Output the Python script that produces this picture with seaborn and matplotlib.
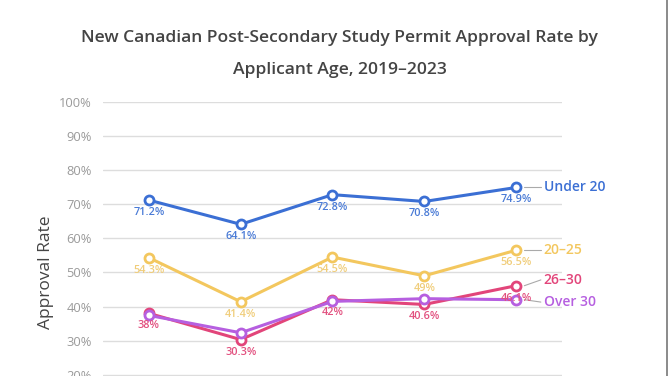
import matplotlib
matplotlib.use("Agg")
import matplotlib.pyplot as plt
import seaborn as sns
import pandas as pd
from matplotlib.lines import Line2D

years = [2019, 2020, 2021, 2022, 2023]
under20 = [71.2, 64.1, 72.8, 70.8, 74.9]
age20_25 = [54.3, 41.4, 54.5, 49.0, 56.5]
age26_30 = [38.0, 30.3, 42.0, 40.6, 46.1]
over30 = [37.4, 32.3, 41.5, 42.3, 42.0]
series_names = ["Under 20", "20\u201325", "26\u201330", "Over 30"]
series_values = [under20, age20_25, age26_30, over30]
show_labels = [True, True, True, False]
colors = ["#3b6fd4", "#f3c75e", "#e2457a", "#b65fe0"]
label_colors = ["#4a7bd6", "#f0cd7a", "#e2507f", "#b65fe0"]
yticks = [0, 10, 20, 30, 40, 50, 60, 70, 80, 90, 100]

sns.set_theme(style="white")
plt.rcParams['font.family'] = ['Open Sans', 'DejaVu Sans']

fig = plt.figure(figsize=(6.69, 3.76), dpi=100)
ax = fig.add_axes([0.154, -0.178, 0.686, 0.907])

rows = []
for name, vals in zip(series_names, series_values):
    for i, v in enumerate(vals):
        rows.append({"idx": i, "year": years[i], "rate": v, "series": name})
df = pd.DataFrame(rows)

for name, col in zip(series_names, colors):
    sub = df[df.series == name]
    sns.lineplot(data=sub, x="idx", y="rate", ax=ax, color=col, lw=2.2,
                 marker="o", markersize=6.5, markerfacecolor="white",
                 markeredgecolor=col, markeredgewidth=2, zorder=3)

# data labels
for name, vals, lc, show in zip(series_names, series_values, label_colors, show_labels):
    if not show:
        continue
    for i, v in enumerate(vals):
        lab = f"{v:g}%"
        ax.annotate(lab, (i, v), xytext=(0, -9), textcoords="offset points",
                    ha="center", va="center", fontsize=7.8, color=lc,
                    fontweight="semibold", zorder=4)

# series end labels
label_y = [74.9, 56.5, 47.8, 41.3]
for name, vals, col, ly in zip(series_names, series_values, colors, label_y):
    ax.plot([4.09, 4.27], [vals[-1], ly], color="#aaaaaa", lw=0.8, zorder=2,
            clip_on=False)
    ax.text(4.3, ly, name, color=col, fontsize=10, va="center", ha="left",
            fontweight="semibold")

ax.set_xlim(-0.5, 4.5)
ax.set_ylim(0, 100)
ax.set_yticks(yticks)
ax.set_yticklabels([f"{t}%" for t in yticks], color="#9a9a9a", fontsize=9.3)
ax.set_xticks(range(len(years)))
ax.set_xticklabels([])
ax.tick_params(axis="y", length=0, pad=8)
ax.tick_params(axis="x", length=0)
ax.grid(axis="y", color="#dddddd", lw=1)
for s in ax.spines.values():
    s.set_visible(False)
ax.set_xlabel("")
ax.set_ylabel("Approval Rate", fontsize=12.5, color="#444444", labelpad=4)

fig.text(0.508, 0.898, "New Canadian Post-Secondary Study Permit Approval Rate by",
         ha="center", va="center", fontsize=12.6, color="#444444", fontweight="semibold")
fig.text(0.508, 0.815, "Applicant Age, 2019\u20132023",
         ha="center", va="center", fontsize=12.6, color="#444444", fontweight="semibold")

fig.add_artist(Line2D([0.997, 0.997], [0, 1], color="#777777", lw=1.2,
                      transform=fig.transFigure))

fig.savefig("out.png", dpi=100)
